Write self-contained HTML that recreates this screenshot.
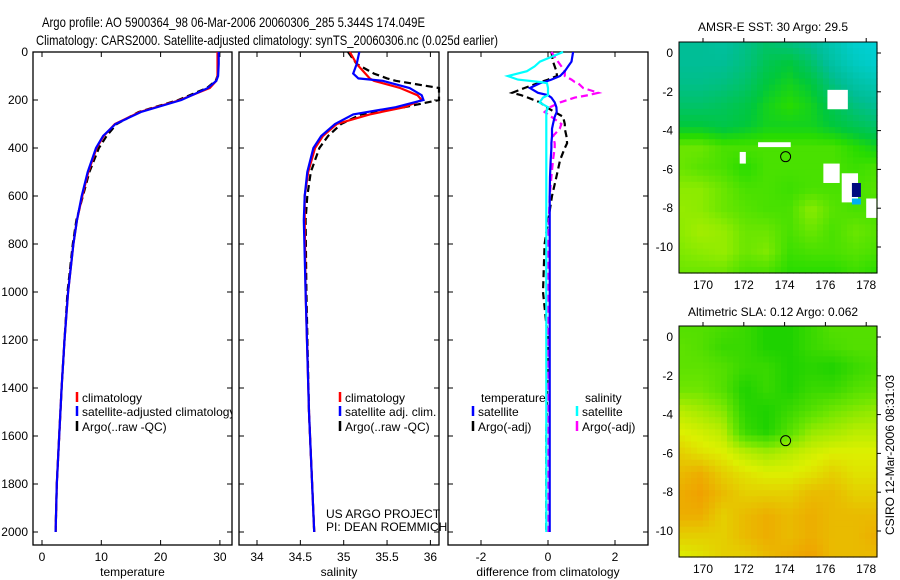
<!DOCTYPE html>
<html><head><meta charset="utf-8"><style>
body{margin:0;background:#fff;}
svg{display:block;font-family:"Liberation Sans",sans-serif;}
</style></head><body>
<svg id="fig" width="900" height="580" viewBox="0 0 900 580">
<defs><clipPath id="p1clip"><rect x="33" y="52" width="199" height="493"/></clipPath></defs>
<text x="42" y="27" font-size="14" textLength="383" lengthAdjust="spacingAndGlyphs">Argo profile: AO 5900364_98 06-Mar-2006 20060306_285 5.344S 174.049E</text>
<text x="36" y="45" font-size="14" textLength="462" lengthAdjust="spacingAndGlyphs">Climatology: CARS2000. Satellite-adjusted climatology: synTS_20060306.nc (0.025d earlier)</text>
<text x="773" y="31" font-size="12" text-anchor="middle">AMSR-E SST: 30 Argo: 29.5</text>
<text x="773" y="316" font-size="12" text-anchor="middle">Altimetric SLA: 0.12 Argo: 0.062</text>
<text transform="translate(894,455) rotate(-90)" font-size="12" text-anchor="middle">CSIRO 12-Mar-2006 08:31:03</text>
<text x="326" y="518" font-size="12">US ARGO PROJECT</text>
<text x="326" y="531" font-size="12">PI: DEAN ROEMMICH</text>
</svg>
<script>
// ---- profile data ----
const tempDepth = [0,50,100,120,150,200,250,300,350,400,500,600,700,800,1000,1200,1400,1600,1800,2000];
const tempClim  = [29.6,29.6,29.6,29.4,28.3,23.3,16.5,12.3,10.4,9.2,7.8,6.8,5.9,5.3,4.4,3.8,3.3,2.9,2.5,2.3];
const tempSat   = [29.8,29.8,29.7,29.4,28.0,23.5,16.7,12.4,10.3,9.1,7.7,6.7,5.9,5.3,4.4,3.8,3.3,2.9,2.5,2.3];
const tempArgo  = [29.7,29.7,29.6,29.3,27.8,23.0,16.3,12.6,10.9,9.6,8.0,6.9,5.8,5.2,4.3,3.8,3.3,2.9,2.5,2.3];
const salDepth = [0,50,90,110,120,150,180,200,230,260,300,350,400,500,600,700,1000,1500,2000];
const salClim  = [35.07,35.15,35.25,35.3,35.35,35.65,35.85,35.9,35.7,35.3,34.92,34.76,34.67,34.59,34.55,34.55,34.56,34.6,34.66];
const salSat   = [35.18,35.15,35.11,35.17,35.45,35.76,35.9,35.92,35.6,35.11,34.9,34.74,34.65,34.58,34.55,34.54,34.56,34.6,34.66];
const salArgo  = [35.05,35.15,35.35,35.5,35.6,36.1,36.3,36.15,35.7,35.2,34.97,34.82,34.72,34.62,34.58,34.56,34.57,34.6,34.66];
const difDepth = [0,40,60,80,100,115,125,130,150,170,180,190,210,230,250,270,300,320,350,380,400,450,520,600,800,1000,1200,1600,2000];
const dTSat  = [0.75,0.7,0.6,0.5,0.36,0.1,-0.1,-0.24,-0.54,-0.3,0,0.1,0.2,0.25,0.26,0.2,0.15,0.12,0.12,0.1,0.1,0.08,0.06,0.05,0.05,0.05,0.05,0.05,0.05];
const dSSat  = [0.45,-0.24,-0.4,-0.63,-1.2,-0.9,-0.24,-0.03,0,0,0,-0.15,-0.25,0,-0.05,-0.05,-0.05,-0.05,-0.05,-0.05,-0.05,-0.05,-0.05,-0.05,-0.05,-0.05,-0.05,-0.05,-0.05];
const dTArgo = [0.1,0.15,0.2,0.25,0.27,0,-0.2,-0.3,-0.7,-1.07,-0.8,-0.6,-0.24,-0.05,0.2,0.45,0.5,0.5,0.55,0.57,0.5,0.36,0.25,0.12,-0.1,-0.15,0,-0.05,-0.05];
const dSArgo = [0.1,0.3,0.4,0.5,0.5,0.7,0.8,0.9,1.05,1.5,1.2,0.8,0.36,0.06,-0.1,0.1,0.4,0.35,0.15,0.2,0.2,0.15,0.1,0.05,0,0,0,0,0];
const depthTicks = [0,200,400,600,800,1000,1200,1400,1600,1800,2000];
const tempTicks = [0,10,20,30];
const salTicks = [34,34.5,35,35.5,36];
const difTicks = [-2,0,2];
// ---- map data (rows: lat 0.5 -> -11.5, cols: lon 169 -> 178.5) ----
const sstGrid = [
[0.25,0.25,0.22,0.28,0.35,0.3,0.25,0.15,0.05,0.02],
[0.25,0.25,0.25,0.3,0.4,0.45,0.35,0.2,0.1,0.05],
[0.28,0.28,0.3,0.35,0.45,0.5,0.45,0.3,0.2,0.15],
[0.35,0.35,0.38,0.42,0.5,0.55,0.5,0.4,0.3,0.25],
[0.45,0.45,0.42,0.45,0.5,0.5,0.5,0.45,0.4,0.35],
[0.65,0.65,0.6,0.6,0.6,0.6,0.6,0.6,0.55,0.5],
[0.65,0.62,0.6,0.55,0.6,0.6,0.6,0.6,0.58,0.6],
[0.7,0.7,0.65,0.6,0.6,0.58,0.6,0.6,0.6,0.62],
[0.72,0.7,0.65,0.62,0.6,0.6,0.7,0.62,0.6,0.6],
[0.7,0.75,0.72,0.65,0.65,0.6,0.65,0.6,0.65,0.62],
[0.68,0.7,0.72,0.65,0.68,0.58,0.6,0.6,0.62,0.6],
[0.65,0.65,0.65,0.6,0.6,0.55,0.55,0.55,0.58,0.55]];
const slaGrid = [
[0.6,0.6,0.58,0.55,0.5,0.5,0.55,0.6,0.6,0.6],
[0.62,0.6,0.55,0.55,0.5,0.5,0.55,0.58,0.6,0.6],
[0.62,0.62,0.6,0.55,0.55,0.5,0.52,0.5,0.55,0.58],
[0.65,0.65,0.6,0.5,0.55,0.5,0.55,0.55,0.6,0.62],
[0.75,0.72,0.68,0.52,0.5,0.55,0.6,0.65,0.68,0.7],
[0.8,0.78,0.75,0.55,0.5,0.6,0.7,0.72,0.75,0.75],
[0.85,0.82,0.8,0.75,0.72,0.75,0.78,0.8,0.8,0.8],
[0.88,0.9,0.85,0.82,0.8,0.8,0.82,0.85,0.82,0.82],
[0.9,0.92,0.88,0.85,0.85,0.85,0.88,0.88,0.85,0.85],
[0.9,0.9,0.85,0.88,0.9,0.88,0.9,0.88,0.88,0.88],
[0.85,0.85,0.85,0.88,0.9,0.88,0.9,0.88,0.88,0.9],
[0.8,0.82,0.85,0.85,0.88,0.9,0.92,0.88,0.88,0.88]];
const lonTicks = [170,172,174,176,178];
const latTicks = [0,-2,-4,-6,-8,-10];
const floatLon = 174.049, floatLat = -5.344;

const NS='http://www.w3.org/2000/svg';
const svg=document.getElementById('fig');
function mk(tag,attrs,parent){const e=document.createElementNS(NS,tag);for(const k in attrs)e.setAttribute(k,attrs[k]);(parent||svg).appendChild(e);return e;}
const yD = d => 52 + d*0.24;
const TOP=52, BOT=545;

function panel(name,x0,x1,xs,ticks,label,showY){
  const g=mk('g',{});
  
  
  mk('rect',{x:x0,y:TOP,width:x1-x0,height:BOT-TOP,fill:'none',stroke:'#000','stroke-width':1.3},g);
  ticks.forEach(t=>{const x=xs(t);
    mk('line',{x1:x,x2:x,y1:TOP,y2:TOP+5,stroke:'#000'},g);
    mk('line',{x1:x,x2:x,y1:BOT,y2:BOT-5,stroke:'#000'},g);
    const tx=mk('text',{x:x,y:BOT+16,'font-size':12,'text-anchor':'middle'},g);tx.textContent=t;
    
    
  });
  depthTicks.forEach(d=>{const y=yD(d);
    mk('line',{x1:x0,x2:x0+5,y1:y,y2:y,stroke:'#000'},g);
    mk('line',{x1:x1,x2:x1-5,y1:y,y2:y,stroke:'#000'},g);
    if(showY){const tx=mk('text',{x:x0-5,y:y+4,'font-size':12,'text-anchor':'end'},g);tx.textContent=d;
      
      }
  });
  const lb=mk('text',{x:(x0+x1)/2,y:BOT+31,'font-size':12,'text-anchor':'middle'},g);lb.textContent=label;
  
  
  return g;
}
function line(name,depths,vals,xs,color,dash,x0,x1){
  const pts=depths.map((d,i)=>Math.max(x0,Math.min(x1,xs(vals[i]))).toFixed(1)+','+yD(d).toFixed(1)).join(' ');
  const p=mk('polyline',{points:pts,fill:'none',stroke:color,'stroke-width':2.2});
  if(dash)p.setAttribute('stroke-dasharray',dash);
  
  
}
function legend(x,y,color,text,name,parent){
  mk('line',{x1:x,x2:x,y1:y-10,y2:y,stroke:color,'stroke-width':2.5},parent);
  const t=mk('text',{x:x+5,y:y,'font-size':12},parent);t.textContent=text;
  
  
}
// temperature
const xT=v=>42+v*5.93;
panel('temperature-panel',33,232,xT,tempTicks,'temperature',true);
line('temp-argo-line',tempDepth,tempArgo,xT,'#000','7 4',33,232);
line('temp-clim-line',tempDepth,tempClim,xT,'#f00',null,33,232);
line('temp-sat-line',tempDepth,tempSat,xT,'#00f',null,33,232);
const lg1=mk('g',{'clip-path':'url(#p1clip)'});


legend(77,402,'#f00','climatology','legend-climatology',lg1);
legend(77,416,'#00f','satellite-adjusted climatology','legend-satellite',lg1);
legend(77,431,'#000','Argo(..raw -QC)','legend-argo',lg1);
// salinity
const xS=v=>257+(v-34)*86.7;
panel('salinity-panel',239,439,xS,salTicks,'salinity',false);
line('sal-argo-line',salDepth,salArgo,xS,'#000','7 4',239,439);
line('sal-clim-line',salDepth,salClim,xS,'#f00',null,239,439);
line('sal-sat-line',salDepth,salSat,xS,'#00f',null,239,439);
legend(340,402,'#f00','climatology','legend-sal-climatology');
legend(340,416,'#00f','satellite adj. clim.','legend-sal-satellite');
legend(340,431,'#000','Argo(..raw -QC)','legend-sal-argo');
// difference
const xF=v=>548+v*33.5;
panel('difference-panel',448,648,xF,difTicks,'difference from climatology',false);
line('dT-argo-line',difDepth,dTArgo,xF,'#000','7 4',448,648);
line('dS-argo-line',difDepth,dSArgo,xF,'#f0f','7 4',448,648);
line('dT-sat-line',difDepth,dTSat,xF,'#00f',null,448,648);
line('dS-sat-line',difDepth,dSSat,xF,'#0ff',null,448,648);
const th=mk('text',{x:481,y:402,'font-size':12});th.textContent='temperature';


const sh=mk('text',{x:585,y:402,'font-size':12});sh.textContent='salinity';


legend(473,416,'#00f','satellite','legend-dT-satellite');
legend(473,431,'#000','Argo(-adj)','legend-dT-argo');
legend(577,416,'#0ff','satellite','legend-dS-satellite');
legend(577,431,'#f0f','Argo(-adj)','legend-dS-argo');

// ---- maps ----
function cmap(v,stops){
  for(let i=1;i<stops.length;i++){if(v<=stops[i][0]||i==stops.length-1){const a=stops[i-1],b=stops[i];let t=(v-a[0])/(b[0]-a[0]);t=Math.max(0,Math.min(1,t));
    return 'rgb('+[1,2,3].map(k=>Math.round(a[k]+(b[k]-a[k])*t)).join(',')+')';}}
}
const sstStops=[[0,0,210,220],[0.25,0,190,150],[0.45,0,200,60],[0.55,40,220,0],[0.7,140,235,0],[0.85,210,240,0],[1,240,170,0]];
const slaStops=[[0,0,200,100],[0.5,30,210,0],[0.65,110,230,0],[0.8,220,240,0],[0.92,240,160,0],[1,230,120,0]];
function drawMap(name,grid,stops,X0,Y0,lat0y){
  const X1=877,Y1=Y0+231, W=X1-X0, H=Y1-Y0;
  const lonX=lo=>703+(lo-170)*20.4, latY=la=>lat0y-la*19.4;
  const g=mk('g',{});
  
  
  const nx=33, ny=38, cw=W/nx, ch=H/ny, R=grid.length, C=grid[0].length;
  for(let j=0;j<ny;j++)for(let i=0;i<nx;i++){
    const gx=(i+0.5)/nx*(C-1), gy=(j+0.5)/ny*(R-1);
    const ix=Math.min(C-2,Math.floor(gx)), iy=Math.min(R-2,Math.floor(gy)), fx=gx-ix, fy=gy-iy;
    const v=grid[iy][ix]*(1-fx)*(1-fy)+grid[iy][ix+1]*fx*(1-fy)+grid[iy+1][ix]*(1-fx)*fy+grid[iy+1][ix+1]*fx*fy;
    mk('rect',{x:(X0+i*cw).toFixed(2),y:(Y0+j*ch).toFixed(2),width:(cw+0.6).toFixed(2),height:(ch+0.6).toFixed(2),fill:cmap(v,stops)},g);
  }
  mk('rect',{x:X0,y:Y0,width:W,height:H,fill:'none',stroke:'#000','stroke-width':1},g);
  lonTicks.forEach(lo=>{const x=lonX(lo);
    mk('line',{x1:x,x2:x,y1:Y0,y2:Y0-4,stroke:'#000'},g);
    const t=mk('text',{x:x,y:Y1+16,'font-size':12,'text-anchor':'middle'},g);t.textContent=lo;
    
    });
  latTicks.forEach(la=>{const y=latY(la);
    mk('line',{x1:X1,x2:X1+4,y1:y,y2:y,stroke:'#000'},g);
    const t=mk('text',{x:X0-6,y:y+4,'font-size':12,'text-anchor':'end'},g);t.textContent=la;
    
    });
  return {g,lonX,latY};
}
const m1=drawMap('sst-map',sstGrid,sstStops,679,42,53);
[[176.1,-1.9,1,1],[172.7,-4.6,1.6,0.25],[171.8,-5.1,0.3,0.6],[175.9,-5.7,0.8,1],[176.8,-6.2,0.8,1.5],[178,-7.5,0.5,1]].forEach(r=>mk('rect',{x:m1.lonX(r[0]),y:m1.latY(r[1]),width:r[2]*20.4,height:r[3]*19.4,fill:'#fff'},m1.g));
mk('rect',{x:m1.lonX(177.3),y:m1.latY(-6.7),width:9,height:14,fill:'#000a80'},m1.g);
mk('rect',{x:m1.lonX(177.3),y:m1.latY(-7.5),width:9,height:6,fill:'#00b0f0'},m1.g);
const c1=mk('circle',{cx:m1.lonX(floatLon),cy:m1.latY(floatLat),r:5,fill:'none',stroke:'#000','stroke-width':1},m1.g);


const m2=drawMap('sla-map',slaGrid,slaStops,679,326,337);
const c2=mk('circle',{cx:m2.lonX(floatLon),cy:m2.latY(floatLat),r:5,fill:'none',stroke:'#000','stroke-width':1},m2.g);


</script>
</body></html>
